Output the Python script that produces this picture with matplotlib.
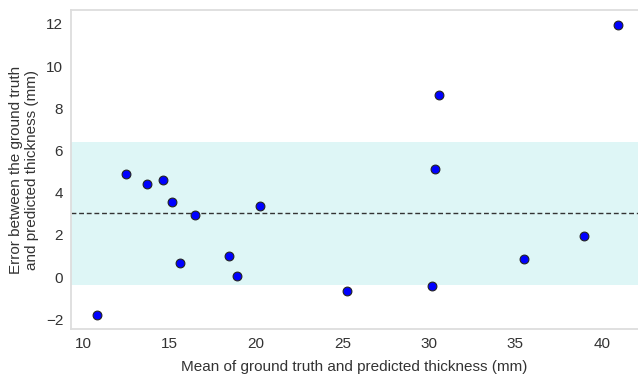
import matplotlib.pyplot as plt
import numpy as np

# mean of ground truth and prediction (mm), and their difference (mm)
mean_mm = [10.81, 12.49, 13.70, 14.62, 15.14, 15.61, 16.47, 18.42, 18.90, 20.23,
           25.28, 30.17, 30.35, 30.60, 35.53, 38.98, 40.94]
diff_mm = [-1.80, 4.88, 4.41, 4.60, 3.57, 0.65, 2.92, 0.99, 0.03, 3.38,
           -0.65, -0.44, 5.13, 8.63, 0.84, 1.94, 11.96]
bias = 3.03
loa_low = -0.38
loa_high = 6.40

plt.rcParams['font.family'] = ['Liberation Sans', 'DejaVu Sans']

fig = plt.figure(figsize=(6.38, 3.75), dpi=100)
ax = fig.add_axes([0.111, 0.1227, 0.889, 0.8503])

ax.axhspan(loa_low, loa_high, color='c', alpha=0.13, lw=0, zorder=0)
ax.axhline(bias, color='#333333', ls=(0, (3.5, 2)), lw=1, zorder=1)
ax.scatter(mean_mm, diff_mm, s=40, c='blue', edgecolors='#222222', linewidths=0.8, zorder=3)

ax.set_xlim(9.3, 42.1)
ax.set_ylim(-2.46, 12.65)
ax.set_xticks([10, 15, 20, 25, 30, 35, 40])
ax.set_yticks([-2, 0, 2, 4, 6, 8, 10, 12])
ax.tick_params(length=0, labelsize=11, colors='#333333', pad=5.5)

for side in ['left', 'top', 'bottom']:
    ax.spines[side].set_color('#dddddd')
    ax.spines[side].set_linewidth(1.3)
ax.spines['right'].set_visible(False)

ax.set_xlabel('Mean of ground truth and predicted thickness (mm)', fontsize=11, color='#333333', labelpad=6.5)
ax.set_ylabel('Error between the ground truth\nand predicted thickness (mm)', fontsize=11, color='#333333', labelpad=5)

fig.savefig('out.png', dpi=100)
